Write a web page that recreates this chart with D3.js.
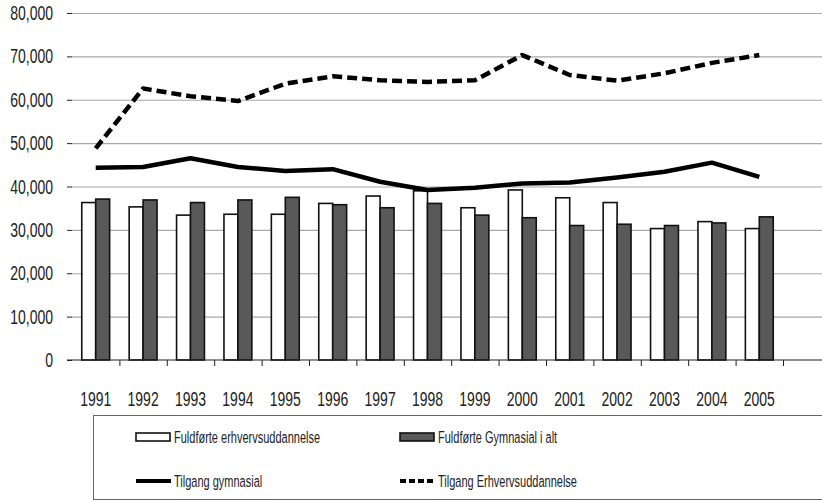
<!DOCTYPE html>
<html>
<head>
<meta charset="utf-8">
<script src="https://cdn.jsdelivr.net/npm/d3@7"></script>
<style>
  body { margin: 0; background: #fff; }
  text { font-family: "Liberation Sans", Arial, sans-serif; fill: #222; }
</style>
</head>
<body>
<div id="chart"></div>
<script>
// data
var years = ["1991", "1992", "1993", "1994", "1995", "1996", "1997", "1998", "1999", "2000", "2001", "2002", "2003", "2004", "2005"];
var fuldforteErhverv = [36300, 35300, 33400, 33600, 33600, 36100, 37800, 39000, 35100, 39200, 37400, 36300, 30300, 31900, 30300];
var fuldforteGymnasial = [37100, 36900, 36300, 36900, 37500, 35800, 35100, 36100, 33400, 32800, 31000, 31300, 31000, 31600, 33000];
var tilgangGymnasial = [44300, 44500, 46500, 44500, 43600, 44000, 41100, 39200, 39700, 40700, 40900, 42100, 43400, 45500, 42200];
var tilgangErhverv = [48800, 62600, 60800, 59700, 63700, 65400, 64500, 64100, 64500, 70300, 65700, 64400, 66100, 68500, 70300];
var yTicks = [0, 10000, 20000, 30000, 40000, 50000, 60000, 70000, 80000];
var barSeries = ["Fuldførte erhvervsuddannelse", "Fuldførte Gymnasial i alt"];
var lineSeries = ["Tilgang gymnasial", "Tilgang Erhvervsuddannelse"];

var width = 822, height = 502;
var plotLeft = 72, plotRight = 783, plotTop = 13, plotBottom = 360;
var stretch = 1.45;

var svg = d3.select("#chart").append("svg").attr("width", width).attr("height", height);

var x0 = d3.scaleBand().domain(years).range([plotLeft, plotRight]);
var x1 = d3.scaleBand().domain(barSeries).range([0, x0.bandwidth()]).paddingOuter(0.7);
var y = d3.scaleLinear().domain([0, 80000]).range([plotBottom, plotTop]);
var boundary = d3.scaleLinear().domain([0, years.length]).range([plotLeft, plotRight]);

// gridlines
svg.append("g")
    .attr("transform", "translate(" + plotLeft + ",0)")
    .call(d3.axisLeft(y).tickValues(yTicks.slice(1)).tickSize(-(width - plotLeft)).tickFormat(""))
    .call(function (g) {
        g.select(".domain").remove();
        g.selectAll("line").attr("stroke", "#a8a8a8").attr("stroke-width", 1.2);
    });

// y axis ticks and labels
svg.append("g")
    .attr("transform", "translate(" + plotLeft + ",0)")
    .call(d3.axisLeft(y).tickValues(yTicks).tickSize(5).tickPadding(14).tickFormat(d3.format(",")))
    .call(function (g) {
        g.select(".domain").remove();
        g.selectAll("line").attr("stroke", "#222");
        g.selectAll("text").attr("font-size", 14).attr("fill", "#222")
            .attr("transform", "scale(1," + stretch + ")");
    });

// bars
var barData = [fuldforteErhverv, fuldforteGymnasial];
var barFill = ["#ffffff", "#595959"];
var groups = svg.append("g").selectAll("g")
    .data(years)
    .enter()
    .append("g")
    .attr("transform", function (d) { return "translate(" + x0(d) + ",0)"; });

groups.selectAll("rect")
    .data(function (d, i) {
        return barSeries.map(function (s, k) { return { key: s, value: barData[k][i], k: k }; });
    })
    .enter()
    .append("rect")
    .attr("x", function (d) { return x1(d.key); })
    .attr("width", x1.bandwidth())
    .attr("y", function (d) { return y(d.value); })
    .attr("height", function (d) { return y(0) - y(d.value); })
    .attr("fill", function (d) { return barFill[d.k]; })
    .attr("stroke", "#111")
    .attr("stroke-width", 1.6);

// x axis baseline and boundary ticks
svg.append("line")
    .attr("x1", plotLeft - 5).attr("x2", width)
    .attr("y1", y(0)).attr("y2", y(0))
    .attr("stroke", "#222").attr("stroke-width", 1.2);

svg.append("g")
    .attr("transform", "translate(0," + plotBottom + ")")
    .call(d3.axisBottom(boundary).tickValues(d3.range(1, years.length + 1)).tickSize(6).tickFormat(""))
    .call(function (g) {
        g.select(".domain").remove();
        g.selectAll("line").attr("stroke", "#222");
    });

// x labels
var labelY = 39;
svg.append("g")
    .attr("transform", "translate(0," + plotBottom + ")")
    .call(d3.axisBottom(x0).tickSize(0).tickPadding(labelY))
    .call(function (g) {
        g.select(".domain").remove();
        g.selectAll("text").attr("font-size", 14).attr("fill", "#222")
            .attr("y", labelY).attr("dy", "0.35em")
            .attr("transform", "translate(0," + labelY + ") scale(1," + stretch + ") translate(0," + (-labelY) + ")");
    });

// lines
var line = d3.line()
    .x(function (d, i) { return x0(years[i]) + x0.bandwidth() / 2; })
    .y(function (d) { return y(d); })
    .curve(d3.curveLinear);

svg.append("path")
    .attr("d", line(tilgangGymnasial))
    .attr("fill", "none").attr("stroke", "#000").attr("stroke-width", 4.5)
    .attr("stroke-linejoin", "round");

svg.append("path")
    .attr("d", line(tilgangErhverv))
    .attr("fill", "none").attr("stroke", "#000").attr("stroke-width", 4.5)
    .attr("stroke-linejoin", "round")
    .attr("stroke-dasharray", "10,5");

// legend
var legend = svg.append("g");
legend.append("rect")
    .attr("x", 93.5).attr("y", 415.5).attr("width", 760).attr("height", 84)
    .attr("fill", "none").attr("stroke", "#666").attr("stroke-width", 1);

var items = [
    { name: barSeries[0], type: "bar", fill: barFill[0], x: 136, y: 437 },
    { name: barSeries[1], type: "bar", fill: barFill[1], x: 400, y: 437 },
    { name: lineSeries[0], type: "line", dash: null, x: 136, y: 481 },
    { name: lineSeries[1], type: "line", dash: "6,3", x: 400, y: 481 }
];

items.forEach(function (it) {
    if (it.type === "bar") {
        legend.append("rect")
            .attr("x", it.x).attr("y", it.y - 4).attr("width", 34).attr("height", 8)
            .attr("fill", it.fill).attr("stroke", "#111").attr("stroke-width", 1.6);
    } else {
        legend.append("line")
            .attr("x1", it.x).attr("x2", it.x + 35)
            .attr("y1", it.y).attr("y2", it.y)
            .attr("stroke", "#000").attr("stroke-width", 4)
            .attr("stroke-dasharray", it.dash);
    }
    legend.append("text")
        .attr("x", it.x + 38).attr("y", 0).attr("dy", "0.35em")
        .attr("font-size", 11)
        .attr("transform", "translate(0," + it.y + ") scale(1,1.5)")
        .text(it.name);
});
</script>
</body>
</html>
